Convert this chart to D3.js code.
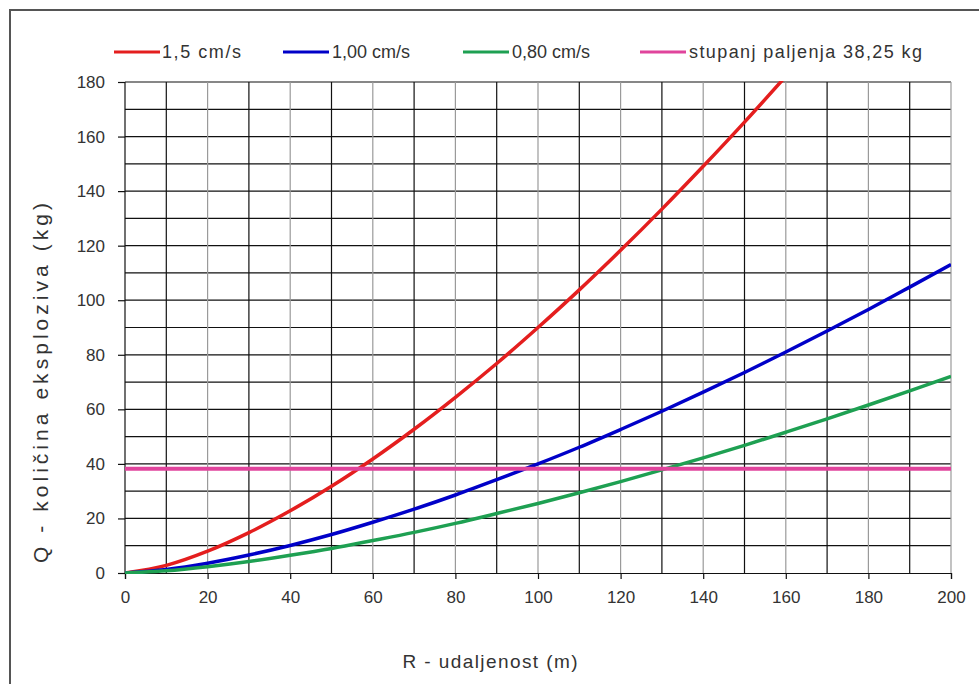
<!DOCTYPE html>
<html>
<head>
<meta charset="utf-8">
<script src="https://cdn.jsdelivr.net/npm/d3@7"></script>
<style>
  html, body { margin: 0; padding: 0; background: #fff; }
  svg { display: block; font-family: "Liberation Sans", Arial, sans-serif; }
</style>
</head>
<body>
<svg id="chart" width="979" height="684"></svg>
<script>
// Distance R (m)
const distances = [0, 10, 20, 30, 40, 50, 60, 70, 80, 90, 100, 110, 120, 130, 140, 150, 160, 170, 180, 190, 200];
// Q (kg) for 1,5 cm/s (runs off top after ~160 m)
const q15 = [0, 2.8, 8.0, 14.8, 22.8, 31.8, 41.8, 52.7, 64.4, 76.8, 90, 103.8, 118.3, 133.4, 149.1, 165.3, 182.1];
// Q (kg) for 1,00 cm/s
const q100 = [0, 1.3, 3.6, 6.6, 10.1, 14.1, 18.6, 23.4, 28.6, 34.2, 40, 46.1, 52.6, 59.3, 66.3, 73.5, 81.0, 88.7, 96.6, 104.8, 113.1];
// Q (kg) for 0,80 cm/s
const q080 = [0, 0.8, 2.3, 4.2, 6.5, 9.0, 11.9, 14.9, 18.2, 21.8, 25.5, 29.4, 33.5, 37.8, 42.2, 46.8, 51.6, 56.5, 61.6, 66.8, 72.1];
// ignition level
const ignition = 38.25;
const ignitionX = [0, 200];

const xTicks = [0, 20, 40, 60, 80, 100, 120, 140, 160, 180, 200];
const yTicks = [0, 20, 40, 60, 80, 100, 120, 140, 160, 180];

const seriesNames = ["1,5 cm/s", "1,00 cm/s", "0,80 cm/s", "stupanj paljenja 38,25 kg"];
const seriesColors = ["#e41e1e", "#0000c8", "#1ea052", "#e0449c"];

const svg = d3.select("#chart");
const L = 125, R = 951, T = 82, B = 573;
const x = d3.scaleLinear().domain([0, 200]).range([L, R]);
const y = d3.scaleLinear().domain([0, 180]).range([B, T]);
const textColor = "#333";

// outer border
svg.append("rect").attr("x", 10).attr("y", 10).attr("width", 980).attr("height", 700)
  .attr("fill", "none").attr("stroke", "#555").attr("stroke-width", 2);

// grid
const grid = svg.append("g");
d3.range(10, 190, 10).forEach(v => {
  grid.append("line").attr("x1", L).attr("x2", R).attr("y1", y(v)).attr("y2", y(v))
    .attr("stroke", "#111").attr("stroke-width", 1.2);
});
d3.range(10, 210, 10).forEach(v => {
  const gray = v % 20 === 0;
  grid.append("line").attr("x1", x(v)).attr("x2", x(v)).attr("y1", T).attr("y2", B)
    .attr("stroke", gray ? "#9a9a9a" : "#111").attr("stroke-width", 1.2);
});

// axes
const xAxis = svg.append("g").attr("transform", `translate(0,${B})`)
  .call(d3.axisBottom(x).tickValues(xTicks).tickSize(6).tickPadding(12));
const yAxis = svg.append("g").attr("transform", `translate(${L},0)`)
  .call(d3.axisLeft(y).tickValues(yTicks).tickSize(7).tickPadding(13));
[xAxis, yAxis].forEach(a => {
  a.select(".domain").attr("stroke", "#111").attr("stroke-width", 1.2);
  a.selectAll(".tick line").attr("stroke", "#111").attr("stroke-width", 1.2);
  a.selectAll(".tick text").attr("font-size", 17).attr("fill", textColor)
    .attr("font-family", "Liberation Sans, Arial, sans-serif");
});
yAxis.select(".domain").remove();
yAxis.append("line").attr("x1", 0).attr("x2", 0).attr("y1", T).attr("y2", B).attr("stroke", "#111").attr("stroke-width", 1.2);

// clip
svg.append("clipPath").attr("id", "plot").append("rect")
  .attr("x", L).attr("y", T - 1).attr("width", R - L).attr("height", B - T + 2);

const line = d3.line().x(d => x(d[0])).y(d => y(d[1])).curve(d3.curveMonotoneX);
const plot = svg.append("g").attr("clip-path", "url(#plot)");
const seriesData = [q15, q100, q080].map(arr => arr.map((v, i) => [distances[i], v]));
seriesData.forEach((d, i) => {
  plot.append("path").datum(d).attr("d", line).attr("fill", "none")
    .attr("stroke", seriesColors[i]).attr("stroke-width", 3.5);
});
plot.append("path").datum(ignitionX.map(v => [v, ignition])).attr("d", line)
  .attr("fill", "none").attr("stroke", seriesColors[3]).attr("stroke-width", 4);

// legend
const legendItems = [
  { lx: 114, tx: 162, tw: 79 },
  { lx: 283, tx: 332, tw: 78 },
  { lx: 463, tx: 512, tw: 78 },
  { lx: 640, tx: 689, tw: 233 }
];
const lg = svg.append("g");
legendItems.forEach((it, i) => {
  lg.append("line").attr("x1", it.lx).attr("x2", it.lx + 46).attr("y1", 52).attr("y2", 52)
    .attr("stroke", seriesColors[i]).attr("stroke-width", 3);
  lg.append("text").attr("x", it.tx).attr("y", 58).attr("font-size", 18).attr("fill", textColor)
    .attr("textLength", it.tw).attr("lengthAdjust", "spacing").text(seriesNames[i]);
});

// axis titles
svg.append("text").attr("x", 490).attr("y", 668).attr("text-anchor", "middle")
  .attr("font-size", 19).attr("fill", textColor).attr("textLength", 175).attr("lengthAdjust", "spacing")
  .text("R - udaljenost (m)");
svg.append("text").attr("transform", "translate(48,383) rotate(-90)").attr("text-anchor", "middle")
  .attr("font-size", 21).attr("fill", textColor).attr("textLength", 360).attr("lengthAdjust", "spacing")
  .text("Q - količina eksploziva (kg)");
</script>
</body>
</html>
